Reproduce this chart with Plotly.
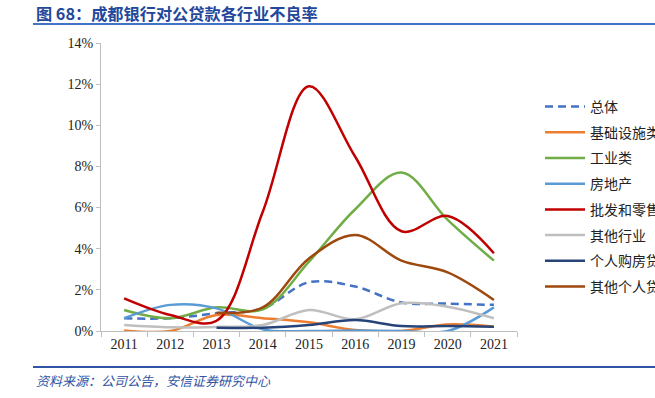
import plotly.graph_objects as go

years = ["2011", "2012", "2013", "2014", "2015", "2016", "2019", "2020", "2021"]
names = ["总体", "基础设施类", "工业类", "房地产", "批发和零售", "其他行业", "个人购房贷款", "其他个人贷款"]

total = [0.62, 0.62, 0.86, 1.10, 2.37, 2.16, 1.39, 1.33, 1.27]
infra = [0.03, 0.00, 0.78, 0.62, 0.42, 0.05, 0.00, 0.32, 0.21]
industry = [1.02, 0.62, 1.15, 1.05, 3.37, 5.92, 7.70, 5.40, 3.42]
realestate = [0.62, 1.27, 1.10, 0.08, 0.00, 0.02, 0.00, 0.00, 1.15]
wholesale = [1.59, 0.78, 0.50, 5.80, 11.90, 8.47, 4.85, 5.59, 3.78]
other_ind = [0.29, 0.18, 0.20, 0.29, 1.02, 0.57, 1.35, 1.18, 0.62]
mortgage = [None, None, 0.16, 0.16, 0.29, 0.53, 0.24, 0.24, 0.21]
other_personal = [None, None, 0.89, 1.15, 3.53, 4.67, 3.42, 2.85, 1.51]

series = [total, infra, industry, realestate, wholesale, other_ind, mortgage, other_personal]
colors = ["#4472C4", "#ED7D31", "#70AD47", "#5B9BD5", "#C00000", "#BFBFBF", "#264478", "#9E480E"]
dashes = ["8px,5px", "solid", "solid", "solid", "solid", "solid", "solid", "solid"]

fig = go.Figure()
for i, (n, s) in enumerate(zip(names, series)):
    fig.add_trace(go.Scatter(
        x=years, y=s, name=n, mode="lines",
        line=dict(color=colors[i], width=2.5, dash=dashes[i], shape="spline", smoothing=1.0),
        legendgroup=str(i), connectgaps=False,
    ))

W, H = 655, 398
L, R, T, B = 101, 517, 43, 331
pw, ph = R - L, B - T

def px(x):
    return (x - L) / pw

def py(y):
    return (B - y) / ph

fig.update_layout(
    width=W, height=H,
    margin=dict(l=L, r=W - R, t=T, b=H - B, autoexpand=False),
    paper_bgcolor="white", plot_bgcolor="white",
    showlegend=True,
    legend=dict(
        x=px(540), y=py(91), xanchor="left", yanchor="top",
        font=dict(family="Noto Sans CJK SC", size=14, color="#222222"),
        itemwidth=40, tracegroupgap=4.5, bgcolor="rgba(0,0,0,0)",
    ),
    xaxis=dict(
        type="category", range=[-0.5, 8.5], showgrid=False,
        showline=True, linecolor="#BFBFBF", linewidth=1,
        ticks="outside", tickson="boundaries", ticklen=5, tickcolor="#BFBFBF",
        tickfont=dict(family="Liberation Serif", size=14, color="#222222"),
    ),
    yaxis=dict(
        range=[0, 14], dtick=2, ticksuffix="%", showgrid=False, zeroline=False,
        showline=True, linecolor="#BFBFBF", linewidth=1,
        ticks="outside", ticklen=4, tickcolor="#BFBFBF",
        tickfont=dict(family="Liberation Serif", size=14, color="#222222"),
    ),
)

fig.add_shape(type="line", xref="paper", yref="paper",
              x0=px(33), x1=px(655), y0=py(24), y1=py(24),
              line=dict(color="#4472C4", width=2))
fig.add_shape(type="line", xref="paper", yref="paper",
              x0=px(33), x1=px(655), y0=py(367), y1=py(367),
              line=dict(color="#2F55A4", width=2))

fig.add_annotation(xref="paper", yref="paper", x=px(34), y=py(13),
                   xanchor="left", yanchor="middle", showarrow=False,
                   text="<b>图 68：成都银行对公贷款各行业不良率</b>",
                   font=dict(family="Noto Sans CJK SC", size=16.2, color="#23479B"))
fig.add_annotation(xref="paper", yref="paper", x=px(34), y=py(380),
                   xanchor="left", yanchor="middle", showarrow=False,
                   text="<i>资料来源：公司公告，安信证券研究中心</i>",
                   font=dict(family="Noto Sans CJK SC", size=13, color="#2F55A4"))

fig.write_html("out.html", config={"displayModeBar": False},
               post_script="document.body.style.margin='0';document.body.style.padding='0';")
